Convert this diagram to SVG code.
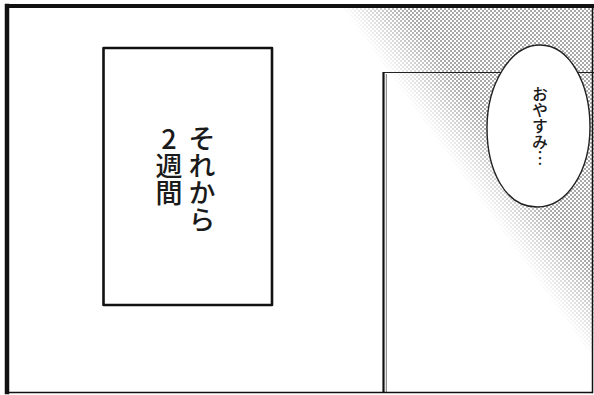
<svg xmlns="http://www.w3.org/2000/svg" width="594" height="395" viewBox="0 0 594 395">
<style>
.frame{fill:none;stroke:#111;stroke-linecap:square}
.box{fill:#fff;stroke:#111;stroke-width:2.6;stroke-linejoin:round}
.vt{font-family:"Noto Sans CJK JP","Noto Sans",sans-serif;writing-mode:vertical-rl;text-orientation:upright;fill:#1a1a1a;font-weight:500}
.bubble{fill:#fff;stroke:#222;stroke-width:1.4}
</style>
<defs>
<pattern id="tone" width="4" height="4" patternUnits="userSpaceOnUse">
<circle cx="1" cy="1" r="0.8" fill="#3a3a3a"/>
<circle cx="3" cy="3" r="0.8" fill="#3a3a3a"/>
</pattern>
<linearGradient id="fade" gradientUnits="userSpaceOnUse" x1="462" y1="177" x2="504" y2="147">
<stop offset="0" stop-color="#000"/>
<stop offset="0.35" stop-color="#555"/>
<stop offset="1" stop-color="#fff"/>
</linearGradient>
<mask id="toneMask" maskUnits="userSpaceOnUse" x="0" y="0" width="594" height="395">
<rect x="0" y="0" width="594" height="395" fill="url(#fade)"/>
</mask>
</defs>
<rect x="0" y="0" width="594" height="395" fill="#fff"/>
<g id="tone-area">
<rect x="300" y="7" width="294" height="385" fill="url(#tone)" mask="url(#toneMask)"/>
</g>
<g id="room-wall">
<line x1="383" y1="72.5" x2="594" y2="72.5" stroke="#222" stroke-width="1.2"/>
<line x1="383.5" y1="72" x2="383.5" y2="392" stroke="#111" stroke-width="2.2"/>
<line x1="386.3" y1="74" x2="386.3" y2="392" stroke="#555" stroke-width="0.8"/>
</g>
<g id="caption-box">
<rect class="box" x="103.5" y="48" width="168.5" height="257"/>
<text class="vt" x="202" y="125" font-size="27">それから</text>
<text class="vt" x="169" y="125" font-size="27">2週間</text>
</g>
<g id="speech-bubble">
<path class="bubble" d="M540 45 C570 45 590 84 590 127 C590 170 568 207 537 207 C505 207 487 170 487 128 C487 85 510 45 540 45 Z"/>
<text class="vt" x="540" y="86" font-size="16">おやすみ…</text>
</g>
<g id="panel-frame">
<line class="frame" x1="7" y1="6" x2="594" y2="6" stroke-width="4"/>
<line class="frame" x1="7" y1="6" x2="7" y2="392" stroke-width="4.5"/>
<line class="frame" x1="7" y1="392.5" x2="592" y2="392.5" stroke-width="1.5"/>
<line class="frame" x1="592.5" y1="6" x2="592.5" y2="392.5" stroke-width="1.5"/>
</g>
<g id="connectors"/>
</svg>
